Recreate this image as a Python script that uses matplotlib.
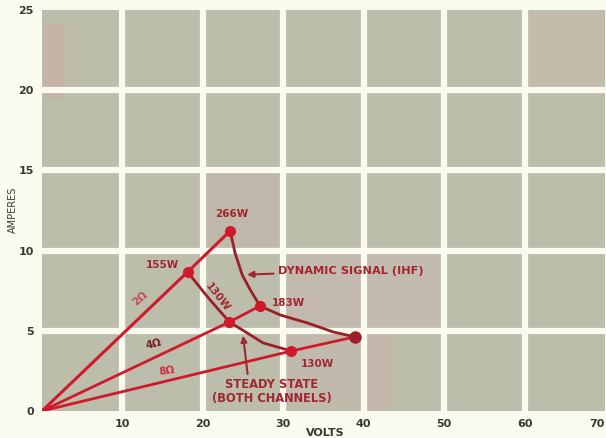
import numpy as np
import matplotlib.pyplot as plt

# load lines (volts, amperes)
load_2ohm_v = [0, 18.1, 23.4]
load_2ohm_a = [0, 8.67, 11.23]
load_4ohm_v = [0, 23.3, 27.1]
load_4ohm_a = [0, 5.55, 6.55]
load_8ohm_v = [0, 31.0, 38.9]
load_8ohm_a = [0, 3.74, 4.62]

# dynamic signal (IHF) curve
dyn_v = [23.4, 24.0, 24.9, 25.9, 27.1, 29.6, 33.0, 36.2, 38.9]
dyn_a = [11.23, 9.86, 8.48, 7.55, 6.55, 5.99, 5.49, 4.93, 4.62]

# steady state curve
ss_v = [18.1, 20.6, 23.3, 25.5, 27.5, 31.0]
ss_a = [8.67, 7.1, 5.55, 4.87, 4.24, 3.74]

# operating points
pts_v = [23.4, 18.1, 27.1, 23.3, 31.0]
pts_a = [11.23, 8.67, 6.55, 5.55, 3.74]
end_v, end_a = 38.9, 4.62

xticks = [10, 20, 30, 40, 50, 60, 70]
yticks = [0, 5, 10, 15, 20, 25]

bg = '#fbfaef'
cell = '#bcbdab'
red = '#cf1a2b'
dark = '#9c1f28'
txt = '#a22630'
ink = '#3c3a30'

fig = plt.figure(figsize=(6.06, 4.38), dpi=100, facecolor=bg)
ax = fig.add_axes([42/606, 27/438, 563/606, 401/438])
ax.set_facecolor(cell)
ax.set_xlim(0, 70)
ax.set_ylim(0, 25)

# white gaps between the grey squares
for x in xticks[:-1]:
    ax.axvline(x, color=bg, lw=4.5, zorder=1)
for y in yticks[1:-1]:
    ax.axhline(y, color=bg, lw=4.5, zorder=1)

# a few tinted squares from the scan
tints = [((0, 19.3), 3, 5, '#c5b3a8'), ((60, 20), 10, 5, '#c3bcac'),
         ((30, 5), 10, 5, '#c4b9ae'), ((40, 5), 10, 5, '#c3bbb0'),
         ((30, 0), 10, 5, '#c2b9ad'), ((40, 0), 4, 5, '#c4b6ab'),
         ((20, 10), 10, 5, '#c0b8ab')]
for (x0, y0), w, h, c in tints:
    ax.add_patch(plt.Rectangle((x0 + 0.3, y0 + 0.2), w - 0.6, h - 0.4,
                               color=c, lw=0, zorder=0.5))

for s in ax.spines.values():
    s.set_visible(False)

ax.plot(load_2ohm_v, load_2ohm_a, color=red, lw=2.2, zorder=3)
ax.plot(load_4ohm_v, load_4ohm_a, color=red, lw=2.0, zorder=3)
ax.plot(load_8ohm_v + [end_v], load_8ohm_a + [end_a], color=red, lw=2.0, zorder=3)
ax.plot(dyn_v, dyn_a, color=dark, lw=2.0, zorder=3)
ax.plot(ss_v, ss_a, color=dark, lw=2.0, zorder=3)
ax.plot(pts_v, pts_a, 'o', color=red, ms=7, zorder=4)
ax.plot(end_v, end_a, 'o', color=dark, ms=8, zorder=4)

fs = 7.5
ax.text(23.6, 12.1, '266W', color=txt, fontsize=fs, fontweight='bold', ha='center')
ax.text(15.0, 8.9, '155W', color=txt, fontsize=fs, fontweight='bold', ha='center')
ax.text(21.8, 7.1, '130W', color=txt, fontsize=fs, fontweight='bold', ha='center',
        va='center', rotation=-52)
ax.text(30.6, 6.75, '183W', color=txt, fontsize=fs, fontweight='bold', ha='center', va='center')
ax.text(34.3, 2.95, '130W', color=txt, fontsize=fs, fontweight='bold', ha='center', va='center')
ax.text(12.2, 7.0, '2Ω', color='#c24a58', fontsize=fs, fontweight='bold', ha='center',
        va='center', rotation=42)
ax.text(13.9, 4.15, '4Ω', color='#7a1c1c', fontsize=fs, fontweight='bold', ha='center',
        va='center', rotation=14)
ax.text(15.5, 2.5, '8Ω', color='#d03040', fontsize=fs, fontweight='bold', ha='center',
        va='center', rotation=8)

ax.annotate('DYNAMIC SIGNAL (IHF)', xy=(25.5, 8.5), xytext=(29.3, 8.75),
            color=txt, fontsize=8.2, fontweight='bold', ha='left', va='center',
            arrowprops=dict(arrowstyle='-|>', color=txt, lw=1.5, mutation_scale=9,
                            shrinkA=1, shrinkB=0))
ax.annotate('STEADY STATE\n(BOTH CHANNELS)', xy=(25.0, 4.7), xytext=(28.6, 2.05),
            color=txt, fontsize=8.3, fontweight='bold', ha='center', va='top',
            linespacing=1.05,
            arrowprops=dict(arrowstyle='-|>', color=txt, lw=1.5, mutation_scale=9,
                            shrinkA=1, shrinkB=0, relpos=(0.3, 1.0)))

ax.set_xticks(xticks)
ax.set_yticks(yticks)
ax.tick_params(length=0, labelsize=8, labelcolor=ink, pad=6)
for lab in ax.get_xticklabels() + ax.get_yticklabels():
    lab.set_fontweight('bold')
ax.get_xticklabels()[-1].set_horizontalalignment('right')

fig.text(325/606, 1 - 433/438, 'VOLTS', fontsize=8, color=ink, fontweight='bold',
         ha='center', va='center')
fig.text(13/606, 1 - 210/438, 'AMPERES', fontsize=7, color=ink, rotation=90,
         ha='center', va='center')

fig.savefig('out.png', dpi=100, facecolor=bg)
